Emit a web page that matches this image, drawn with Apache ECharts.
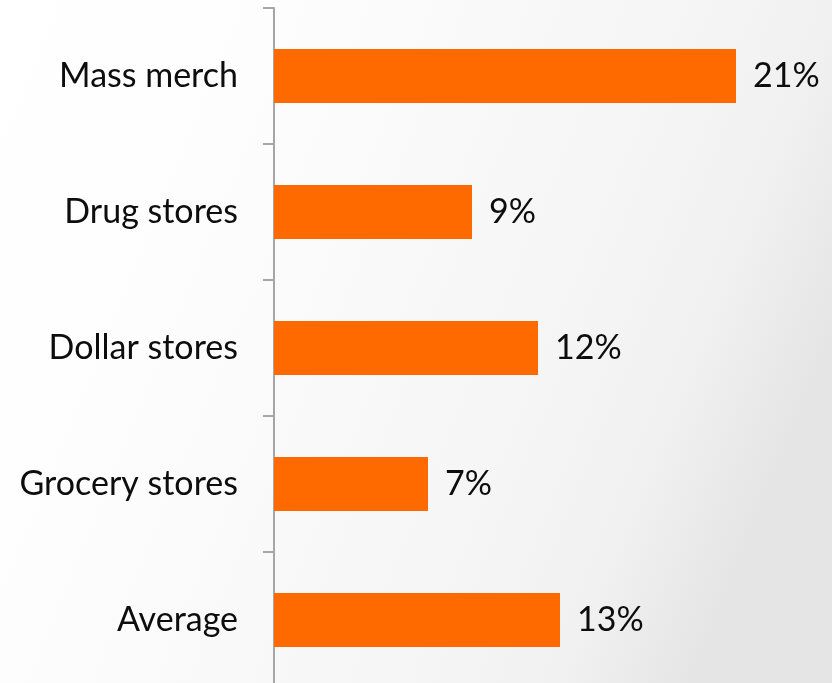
<!DOCTYPE html>
<html>
<head>
<meta charset="utf-8">
<script src="https://cdn.jsdelivr.net/npm/echarts@6/dist/echarts.min.js"></script>
<style>
  html, body { margin: 0; padding: 0; }
  #chart { width: 832px; height: 683px; }
</style>
</head>
<body>
<div id="chart"></div>
<script>
// Share by retail channel (percent)
const categories = ['Mass merch', 'Drug stores', 'Dollar stores', 'Grocery stores', 'Average'];
const shares = [21, 9, 12, 7, 13];

const textFont = { color: '#0d0d0d', fontSize: 34, fontFamily: 'Lato' };

const chart = echarts.init(document.getElementById('chart'));
chart.setOption({
  // soft white-to-grey wash, darkening towards the lower right
  backgroundColor: new echarts.graphic.LinearGradient(0, 0, 1, 0.5, [
    { offset: 0, color: '#ffffff' },
    { offset: 0.3, color: '#fdfdfd' },
    { offset: 0.72, color: '#f5f5f5' },
    { offset: 0.86, color: '#f1f1f1' },
    { offset: 1, color: '#e5e5e5' }
  ]),
  animation: false,
  grid: {
    left: 274, width: 550, top: 8, height: 680,
    containLabel: false,
    outerBoundsMode: 'none'
  },
  xAxis: {
    type: 'value',
    min: 0,
    max: 25,
    show: false
  },
  yAxis: {
    type: 'category',
    data: categories,
    inverse: true,
    axisLine: { show: true, lineStyle: { color: '#a6a6a6', width: 2 } },
    axisTick: { show: true, length: 11, lineStyle: { color: '#a6a6a6', width: 2 } },
    axisLabel: Object.assign({ margin: 36 }, textFont),
    splitLine: { show: false }
  },
  series: [{
    type: 'bar',
    data: shares,
    barWidth: 54,
    itemStyle: { color: '#ff6a00' },
    label: Object.assign({
      show: true,
      position: 'right',
      distance: 17,
      formatter: p => p.value + '%'
    }, textFont)
  }]
});
</script>
</body>
</html>
